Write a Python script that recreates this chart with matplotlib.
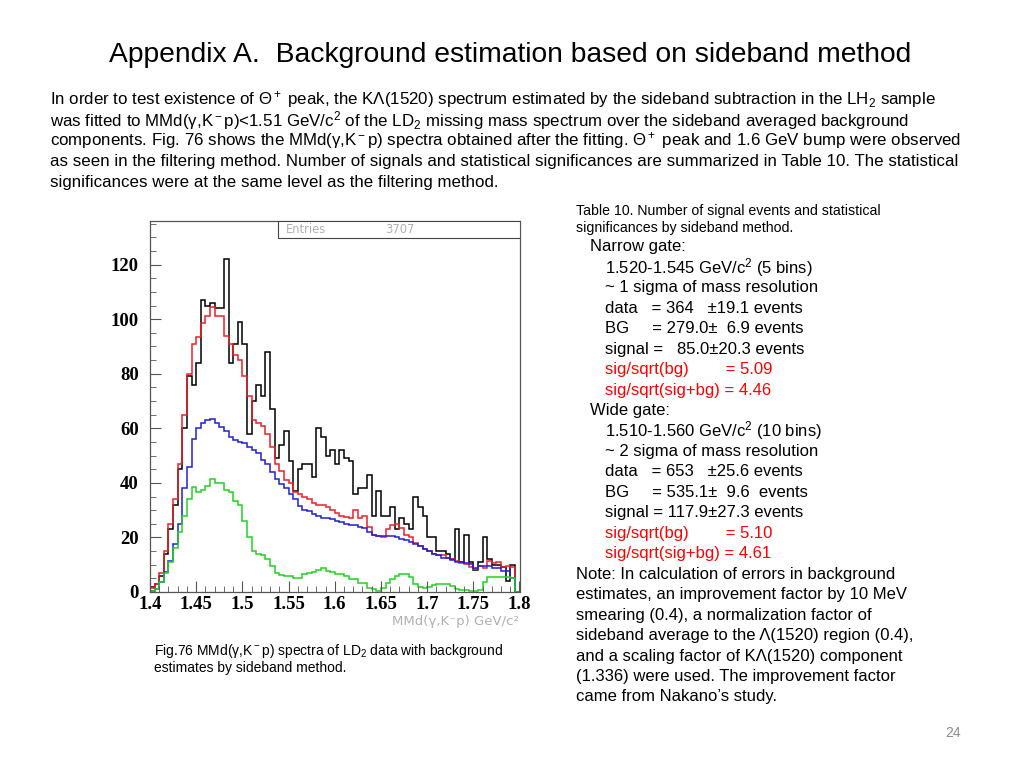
import numpy as np
import matplotlib
matplotlib.use("Agg")
import matplotlib.pyplot as plt
from matplotlib.patches import Rectangle
from matplotlib.ticker import MultipleLocator

plt.rcParams['font.family'] = ['Liberation Sans', 'DejaVu Sans']
plt.rcParams['mathtext.fontset'] = 'custom'
plt.rcParams['mathtext.rm'] = 'Liberation Sans'
plt.rcParams['mathtext.it'] = 'Liberation Sans:italic'
plt.rcParams['mathtext.bf'] = 'Liberation Sans:bold'

# MMd(gamma,K-p) histogram, 80 bins of 5 MeV from 1.4 to 1.8 GeV/c2
bin_edges = np.linspace(1.4, 1.8, 81)

data_counts = [2, 3, 6, 14, 23, 32, 45, 60, 79, 76,
               84, 107, 105, 106, 104, 104, 122, 84, 91, 99,
               91, 58, 70, 76, 72, 88, 67, 49, 54, 59,
               48, 37, 45, 47, 47, 42, 60, 57, 50, 52,
               47, 52, 49, 48, 36, 38, 38, 43, 28, 37,
               28, 28, 31, 23, 27, 25, 23, 35, 31, 28,
               20, 20, 15, 15, 14, 12, 23, 11, 21, 11,
               8, 11, 20, 12, 10, 10, 9, 4, 10, 0]

fit_total = [1.5, 3, 7, 15, 25, 34, 47, 65, 80, 91,
             93.5, 98.5, 101, 104.5, 101, 101, 94, 91, 87, 85,
             79, 72, 63, 62, 61, 58, 53, 47, 44.5, 41,
             40, 36.5, 36, 34.7, 34, 32.5, 32, 32, 31, 30,
             29, 28, 27.5, 27, 30, 27, 28, 24, 21, 20.5,
             20, 23, 24.5, 25, 23.5, 21, 20, 18, 17, 15.8,
             15, 14, 13.6, 13.4, 12.5, 12, 11.4, 10.7, 10.3, 9,
             8.4, 9.6, 8.8, 11.5, 10.5, 11, 9, 9.5, 9, 0]

sideband_bg = [0.5, 1, 3.5, 7.5, 11.5, 17.5, 25, 38, 46, 56,
               60, 62, 63, 63.5, 62, 60.5, 59, 57, 55.6, 55,
               54.5, 53, 52, 51, 48.5, 47, 44, 41.5, 39.7, 38.3,
               36, 34, 31.7, 30, 29.8, 28.7, 28, 27.3, 27, 26.8,
               26, 25.5, 25, 24.5, 24.5, 24, 23.5, 22, 21, 20.5,
               20.5, 20.5, 20.5, 20, 19.5, 19, 18.5, 17.6, 17, 15.8,
               15, 14, 13.6, 12.5, 12.5, 11.8, 11, 11, 10.7, 10.3,
               8.8, 9.6, 9.6, 9.6, 8.8, 8.8, 7.8, 7.8, 5, 0]

klambda = [0.5, 1, 3.5, 7, 11, 16, 22, 28, 34, 38.5,
           36.5, 37.5, 39, 41.5, 40, 40, 37.5, 36.5, 33.5, 32,
           26, 20, 15, 14, 13.5, 12, 9.5, 7, 6.2, 5.8,
           5.8, 5.2, 5.2, 6.5, 7, 7.5, 8, 8.8, 7.8, 7.5,
           6.6, 6.6, 6, 4.7, 4.7, 3.4, 3.4, 1.5, 1.2, 0.5,
           1.5, 3.4, 4.7, 6, 6.5, 6.6, 5.5, 3, 2, 1.6,
           1.8, 2.5, 3, 3, 3, 2.2, 1.2, 0.8, 0.6, 0.5,
           0.5, 0.6, 3.5, 5.5, 5.5, 5.5, 5.5, 5.5, 5, 0]

x_ticks = [1.4, 1.45, 1.5, 1.55, 1.6, 1.65, 1.7, 1.75, 1.8]
x_tick_labels = ['1.4', '1.45', '1.5', '1.55', '1.6', '1.65', '1.7', '1.75', '1.8']
y_ticks = [0, 20, 40, 60, 80, 100, 120]

W, H = 1024, 768
fig = plt.figure(figsize=(W / 100, H / 100), dpi=100)
fig.patch.set_facecolor('white')


def px(x, y):
    return x / W, 1 - y / H


def put(x, y, s, **kw):
    fx, fy = px(x, y)
    kw.setdefault('va', 'center')
    kw.setdefault('ha', 'left')
    fig.text(fx, fy, s, **kw)


# title
put(510, 55, 'Appendix A.  Background estimation based on sideband method',
    ha='center', fontsize=20.3)

# paragraph (super/subscripts through mathtext so one font is used per line)
para = [
    'In order to test existence of Θ$^+$ peak, the KΛ(1520) spectrum estimated by the sideband subtraction in the LH$_2$ sample',
    'was fitted to MMd(γ,K$^-$p)<1.51 GeV/c$^2$ of the LD$_2$ missing mass spectrum over the sideband averaged background',
    'components. Fig. 76 shows the MMd(γ,K$^-$p) spectra obtained after the fitting. Θ$^+$ peak and 1.6 GeV bump were observed',
    'as seen in the filtering method. Number of signals and statistical significances are summarized in Table 10. The statistical',
    'significances were at the same level as the filtering method.',
]
for i, line in enumerate(para):
    put(50, 100 + i * 20.5, line, fontsize=12.2)

# right column: table 10
put(576, 211, 'Table 10. Number of signal events and statistical', fontsize=10.2)
put(576, 228, 'significances by sideband method.', fontsize=10.2)

table_lines = [
    (590, 'Narrow gate:', 'black'),
    (605, '1.520-1.545 GeV/c$^2$ (5 bins)', 'black'),
    (605, '~ 1 sigma of mass resolution', 'black'),
    (605, 'data   = 364   ±19.1 events', 'black'),
    (605, 'BG     = 279.0±  6.9 events', 'black'),
    (605, 'signal =   85.0±20.3 events', 'black'),
    (605, 'sig/sqrt(bg)        = 5.09', 'red'),
    (605, 'sig/sqrt(sig+bg) = 4.46', 'red'),
    (590, 'Wide gate:', 'black'),
    (605, '1.510-1.560 GeV/c$^2$ (10 bins)', 'black'),
    (605, '~ 2 sigma of mass resolution', 'black'),
    (605, 'data   = 653   ±25.6 events', 'black'),
    (605, 'BG     = 535.1±  9.6  events', 'black'),
    (605, 'signal = 117.9±27.3 events', 'black'),
    (605, 'sig/sqrt(bg)        = 5.10', 'red'),
    (605, 'sig/sqrt(sig+bg) = 4.61', 'red'),
    (576, 'Note: In calculation of errors in background', 'black'),
    (576, 'estimates, an improvement factor by 10 MeV', 'black'),
    (576, 'smearing (0.4), a normalization factor of', 'black'),
    (576, 'sideband average to the Λ(1520) region (0.4),', 'black'),
    (576, 'and a scaling factor of KΛ(1520) component', 'black'),
    (576, '(1.336) were used. The improvement factor', 'black'),
    (576, 'came from Nakano’s study.', 'black'),
]
for i, (x, s, c) in enumerate(table_lines):
    put(x, 247 + i * 20.45, s, fontsize=12.0, color=c)

# figure caption
put(154, 651, 'Fig.76 MMd(γ,K$^-$p) spectra of LD$_2$ data with background', fontsize=10)
put(154, 668, 'estimates by sideband method.', fontsize=10)

# page number
put(953, 733, '24', ha='center', fontsize=10, color='#8c8c8c')

# histogram panel
l, b = px(150, 592)
r, t = px(519.5, 221)
ax = fig.add_axes([l, b, r - l, t - b])
ax.stairs(data_counts, bin_edges, color='black', lw=1.1)
ax.stairs(fit_total, bin_edges, color='#e8212a', lw=1.1)
ax.stairs(sideband_bg, bin_edges, color='#1f1fd6', lw=1.1)
ax.stairs(klambda, bin_edges, color='#22d122', lw=1.1)

ax.set_xlim(1.4, 1.8)
ax.set_ylim(0, 136)
ax.set_xticks(x_ticks)
ax.set_xticklabels(x_tick_labels)
ax.set_yticks(y_ticks)
ax.xaxis.set_minor_locator(MultipleLocator(0.01))
ax.yaxis.set_minor_locator(MultipleLocator(5))
ax.tick_params(which='both', direction='in', top=False, right=False, colors='#555555')
ax.tick_params(which='major', length=8, width=0.8)
ax.tick_params(which='minor', length=4, width=0.6)
for lab in ax.get_xticklabels() + ax.get_yticklabels():
    lab.set_family(['Liberation Serif'])
    lab.set_fontweight('bold')
    lab.set_fontsize(13.5)
    lab.set_color('black')
ax.tick_params(axis='x', pad=3)
ax.tick_params(axis='y', pad=8)
for sp in ax.spines.values():
    sp.set_color('#555555')
    sp.set_linewidth(0.9)

# stats box
ax.add_patch(Rectangle((0.347, 0.954), 0.653, 0.046, transform=ax.transAxes,
                       facecolor='white', edgecolor='#444444', lw=0.8, zorder=5))
ax.text(0.368, 0.977, 'Entries', transform=ax.transAxes, va='center',
        fontsize=8.3, color='#b0b0b0', family=['DejaVu Sans'], zorder=6)
ax.text(0.635, 0.977, '3707', transform=ax.transAxes, va='center',
        fontsize=8.3, color='#b0b0b0', family=['DejaVu Sans'], zorder=6)

# x axis title
put(519, 621, 'MMd(γ,K⁻p) GeV/c²', ha='right', fontsize=9.5, color='#b0b0b0',
    family=['DejaVu Sans'])

fig.savefig('out.png', dpi=100, facecolor='white')
